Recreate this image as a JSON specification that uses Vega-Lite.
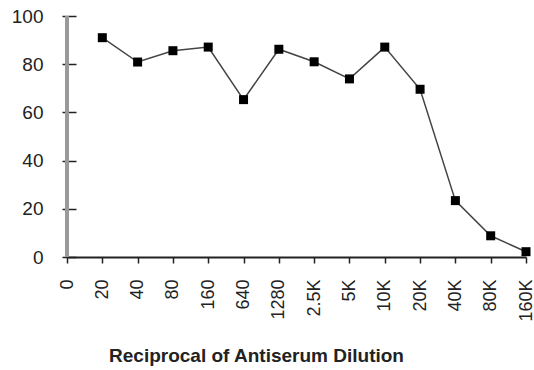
{
  "$schema": "https://vega.github.io/schema/vega-lite/v6.json",
  "width": 459,
  "height": 241,
  "autosize": {"type": "none"},
  "padding": {"left": 67, "top": 16, "right": 8, "bottom": 113},
  "background": "white",
  "config": {
    "view": {"stroke": null},
    "font": "Liberation Sans",
    "axis": {"grid": false, "labelFont": "Liberation Sans", "titleFont": "Liberation Sans", "labelColor": "#222", "titleColor": "#222"}
  },
  "data": {
    "values": [
      {"dilution": "20", "pct": 91.0},
      {"dilution": "40", "pct": 80.9},
      {"dilution": "80", "pct": 85.6},
      {"dilution": "160", "pct": 87.1},
      {"dilution": "640", "pct": 65.3},
      {"dilution": "1280", "pct": 86.2},
      {"dilution": "2.5K", "pct": 81.0},
      {"dilution": "5K", "pct": 73.9},
      {"dilution": "10K", "pct": 87.1},
      {"dilution": "20K", "pct": 69.6},
      {"dilution": "40K", "pct": 23.4},
      {"dilution": "80K", "pct": 8.8},
      {"dilution": "160K", "pct": 2.2}
    ]
  },
  "layer": [
    {
      "mark": {"type": "rule", "color": "#999999", "strokeWidth": 2.5},
      "encoding": {"x": {"datum": "0", "type": "ordinal", "scale": {"type": "point", "padding": 0, "domain": ["0", "20", "40", "80", "160", "640", "1280", "2.5K", "5K", "10K", "20K", "40K", "80K", "160K"]}}}
    },
    {
      "mark": {"type": "line", "color": "#444", "strokeWidth": 1.5},
      "encoding": {
        "x": {
          "field": "dilution",
          "type": "ordinal",
          "sort": null,
          "axis": {
            "orient": "bottom",
            "title": "Reciprocal of Antiserum Dilution",
            "titleFontSize": 19,
            "titleFontWeight": "bold",
            "titleX": 189,
            "titleY": 104,
            "titleAlign": "center",
            "titleBaseline": "alphabetic",
            "labelAngle": -90,
            "labelAlign": "right",
            "labelBaseline": "middle",
            "labelFontSize": 18,
            "labelPadding": 16,
            "domain": true,
            "domainColor": "#222",
            "domainWidth": 2,
            "tickSize": 6,
            "tickColor": "#222",
            "tickWidth": 1.5
          }
        },
        "y": {
          "field": "pct",
          "type": "quantitative",
          "scale": {"domain": [0, 100], "nice": false},
          "axis": {
            "orient": "left",
            "title": null,
            "values": [0, 20, 40, 60, 80, 100],
            "labelFontSize": 19,
            "labelPadding": 19,
            "domain": false,
            "offset": -9,
            "tickSize": 14,
            "tickColor": "#222",
            "tickWidth": 1.5
          }
        }
      }
    },
    {
      "mark": {"type": "square", "color": "black", "opacity": 1, "filled": true, "size": 81},
      "encoding": {
        "x": {"field": "dilution", "type": "ordinal", "sort": null},
        "y": {"field": "pct", "type": "quantitative"}
      }
    }
  ]
}
